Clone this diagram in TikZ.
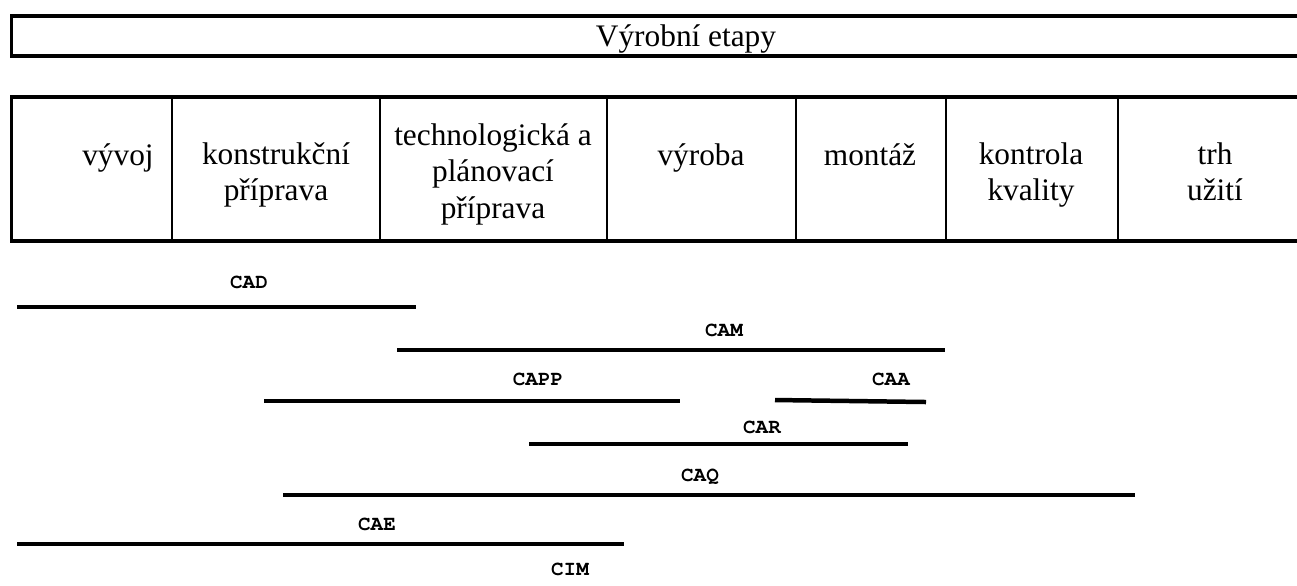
\documentclass[tikz,border=0pt]{standalone}
\usepackage{fontspec}
\setmainfont{Liberation Serif}
\newcommand\toolfont{\fontencoding{OT1}\fontfamily{pcr}\fontseries{b}\selectfont}
\newcommand\cellrows[1]{\begin{tabular}[t]{@{}c@{}}#1\end{tabular}}

\begin{document}
\begin{tikzpicture}[
    x=0.383pt, y=-0.383pt,
    frame/.style={line width=1.34pt},
    divider/.style={line width=0.77pt},
    bar/.style={line width=1.72pt},
    cell/.style={anchor=base, inner sep=0pt, font=\fontsize{12}{14}\selectfont},
    tool/.style={anchor=base, inner sep=0pt, font=\toolfont\fontsize{8}{10}\selectfont}
  ]
    \useasboundingbox (0,0) rectangle (1297,585);

    % header and table of stages
    \draw[frame] (1297,16) -- (11.5,16) -- (11.5,56) -- (1297,56);
    \node[cell] (etapy) at (686,46) {Výrobní etapy};

    \draw[frame] (1297,97) -- (11.5,97) -- (11.5,241) -- (1297,241);
    \draw[divider] (172,97) -- (172,241);
    \draw[divider] (380,97) -- (380,241);
    \draw[divider] (607,97) -- (607,241);
    \draw[divider] (796,97) -- (796,241);
    \draw[divider] (946,97) -- (946,241);
    \draw[divider] (1118,97) -- (1118,241);

    \node[cell] (vyvoj) at (118,165) {vývoj};
    \node[cell] (konstrukce) at (276,164) {\cellrows{konstrukční\\příprava}};
    \node[cell] (technologie) at (493,145) {\cellrows{technologická a\\plánovací\\příprava}};
    \node[cell] (vyroba) at (701,165) {výroba};
    \node[cell] (montaz) at (870,165) {montáž};
    \node[cell] (kontrola) at (1031,164) {\cellrows{kontrola\\kvality}};
    \node[cell] (trh) at (1215,164) {\cellrows{trh\\užití}};

    % CAx systems
    \coordinate (cadL) at (17,307);   \coordinate (cadR) at (416,307);
    \coordinate (camL) at (397,350);  \coordinate (camR) at (945,350);
    \coordinate (cappL) at (264,401); \coordinate (cappR) at (680,401);
    \coordinate (caaL) at (775,400);  \coordinate (caaR) at (926,402);
    \coordinate (carL) at (529,444);  \coordinate (carR) at (908,444);
    \coordinate (caqL) at (283,495);  \coordinate (caqR) at (1135,495);
    \coordinate (caeL) at (17,544);   \coordinate (caeR) at (624,544);

    \node[tool] (cad) at (249,288) {CAD};
    \node[tool] (cam) at (724,336) {CAM};
    \node[tool] (capp) at (538,385) {CAPP};
    \node[tool] (caa) at (891,385) {CAA};
    \node[tool] (car) at (762,433) {CAR};
    \node[tool] (caq) at (700,481) {CAQ};
    \node[tool] (cae) at (377,530) {CAE};
    \node[tool] (cim) at (570,575) {CIM};

    \draw[bar] (cadL) -- (cadR);
    \draw[bar] (camL) -- (camR);
    \draw[bar] (cappL) -- (cappR);
    \draw[bar] (caaL) -- (caaR);
    \draw[bar] (carL) -- (carR);
    \draw[bar] (caqL) -- (caqR);
    \draw[bar] (caeL) -- (caeR);
  \end{tikzpicture}
\end{document}
